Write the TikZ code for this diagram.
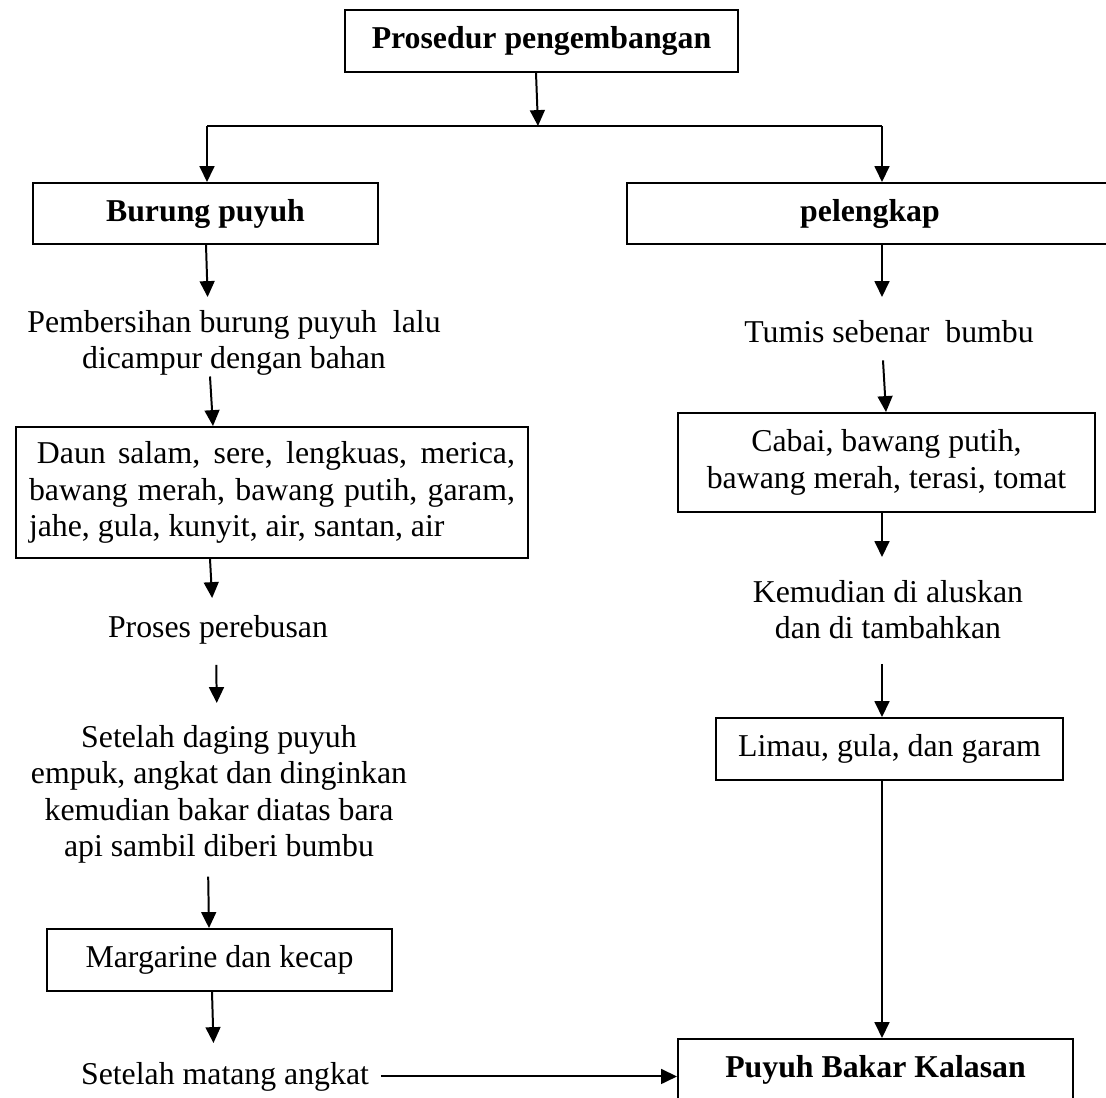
\documentclass[tikz,border=0pt]{standalone}
\usepackage{fontspec}
\setmainfont{Liberation Serif}
\usetikzlibrary{arrows.meta,calc}
\newcommand\pxl{0.3774pt}
\newcommand\bodyfont{\fontsize{12pt}{13.8pt}\selectfont}
\begin{document}
\begin{tikzpicture}[x=0.3774pt,y=-0.3774pt,
  line width=0.75pt,
  arr/.style={-{Triangle[length=6pt,width=5.6pt]}},
  box/.style={draw,line width=0.75pt,align=center,inner sep=0pt,font=\bodyfont},
  bbox/.style={box,font=\bodyfont\bfseries},
  txt/.style={align=center,inner sep=0pt,anchor=north,font=\bodyfont}]
\fill[white] (0,0) rectangle (1106,1097);
\useasboundingbox (0,0) rectangle (1106,1097);
\clip (0,0) rectangle (1106,1097);

% boxes
\node[bbox,minimum width=393*\pxl,minimum height=62*\pxl] (top) at (541.5,41) {Prosedur pengembangan};
\node[bbox,minimum width=345*\pxl,minimum height=61*\pxl] (burung) at (205.5,213.5) {Burung puyuh};
\node[bbox,minimum width=486*\pxl,minimum height=61*\pxl] (pelengkap) at (870,213.5) {pelengkap};
\node[box,align=justify,text width=486*\pxl,inner xsep=13*\pxl,minimum height=131*\pxl] (daun) at (272,492.5)
  {\hspace*{0.25em}Daun salam, sere, lengkuas, merica,\linebreak bawang merah, bawang putih, garam,\linebreak jahe, gula, kunyit, air, santan, air};
\node[box,minimum width=417*\pxl,minimum height=99*\pxl] (cabai) at (886.5,462.5) {Cabai, bawang putih,\\bawang merah, terasi, tomat};
\node[box,minimum width=347*\pxl,minimum height=62*\pxl] (limau) at (889.5,749) {Limau, gula, dan garam};
\node[box,minimum width=345*\pxl,minimum height=62*\pxl] (margarine) at (219.5,960) {Margarine dan kecap};
\node[bbox,minimum width=395*\pxl,minimum height=62*\pxl] (puyuh) at (875.5,1070) {Puyuh Bakar Kalasan};

% plain texts
\node[txt] (pemb) at (234,309) {Pembersihan burung puyuh \ lalu\\dicampur dengan bahan};
\node[txt] (proses) at (218,614) {Proses perebusan};
\node[txt] (setelah) at (219,724) {Setelah daging puyuh\\empuk, angkat dan dinginkan\\kemudian bakar diatas bara\\api sambil diberi bumbu};
\node[txt] (matang) at (225,1061) {Setelah matang angkat};
\node[txt] (tumis) at (889,319) {Tumis sebenar \ bumbu};
\node[txt] (kemudian) at (888,579) {Kemudian di aluskan\\dan di tambahkan};

% helper coordinates
\coordinate (split) at (538,126);
\coordinate (hl) at (207,126);
\coordinate (hr) at (882,126);
\coordinate (t0) at (536,0);
\coordinate (a1) at (206,0);  \coordinate (b1) at (208,0);
\coordinate (a2) at (210,0);  \coordinate (b2) at (213,0);
\coordinate (a3) at (216,0);  \coordinate (b3) at (217,0);
\coordinate (a4) at (208,0);  \coordinate (b4) at (209,0);
\coordinate (a5) at (212,0);  \coordinate (b5) at (214,0);
\coordinate (cr) at (882,0);  \coordinate (cr2) at (886,0);

% connectors
\draw[arr] (top.south -| t0) -- (split);
\draw (hl) -- (hr);
\draw[arr] (hl) -- (hl |- burung.north);
\draw[arr] (hr) -- (hr |- pelengkap.north);
\draw[arr,shorten >=12*\pxl] (burung.south -| a1) -- (pemb.north -| b1);
\draw[arr] (pemb.south -| a2) -- (daun.north -| b2);
\draw[arr,shorten >=16*\pxl] (daun.south -| a2) -- (proses.north -| b2);
\draw[arr,shorten <=20*\pxl,shorten >=21*\pxl] (proses.south -| a3) -- (setelah.north -| b3);
\draw[arr,shorten <=12*\pxl] (setelah.south -| a4) -- (margarine.north -| b4);
\draw[arr,shorten >=18*\pxl] (margarine.south -| a5) -- (matang.north -| b5);
\draw[arr,shorten <=11*\pxl] (matang.east) -- (matang.east -| puyuh.west);
\draw[arr,shorten >=22*\pxl] (pelengkap.south -| cr) -- (tumis.north -| cr);
\draw[arr,shorten <=17*\pxl] (tumis.south -| cr) -- (cabai.north -| cr2);
\draw[arr,shorten >=22*\pxl] (cabai.south -| cr) -- (kemudian.north -| cr);
\draw[arr,shorten <=24*\pxl] (kemudian.south -| cr) -- (limau.north -| cr);
\draw[arr] (limau.south -| cr) -- (puyuh.north -| cr);
\end{tikzpicture}
\end{document}
